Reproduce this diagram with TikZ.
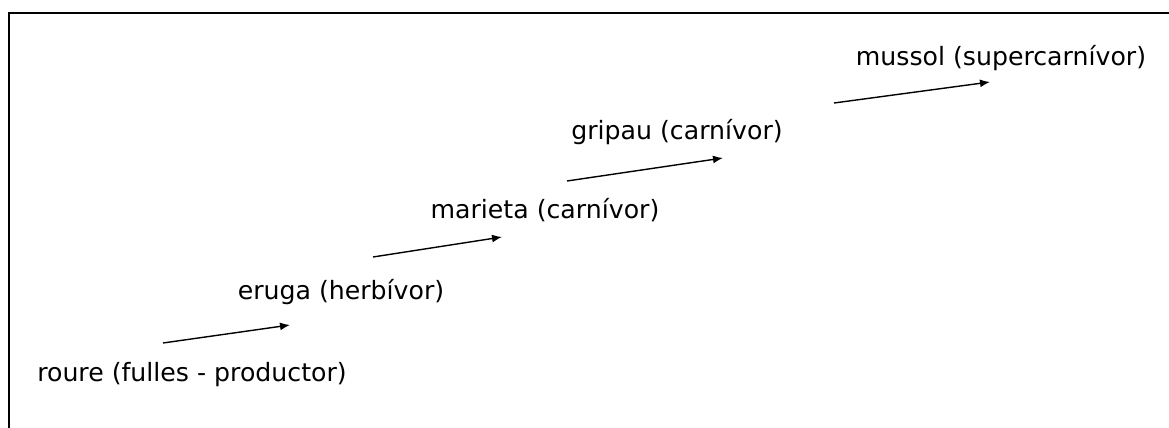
\documentclass[tikz,border=0pt]{standalone}
\usepackage{fontspec}
\setmainfont{DejaVu Sans}
\usetikzlibrary{arrows.meta}
\begin{document}
\begin{tikzpicture}[x=0.5pt,y=-0.5pt,
  lbl/.style={inner sep=0pt,font=\fontsize{12.6pt}{15pt}\selectfont},
  conn/.style={line width=0.7pt,-{Latex[length=5pt,width=4pt]}},
  frame/.style={line width=0.8pt}]
\useasboundingbox (0,0) rectangle (1169,428);
\draw[frame] (9,428) -- (9,13) -- (1169,13);
\node[lbl] (roure) at (192,375) {roure (fulles - productor)};
\node[lbl] (eruga) at (341,292) {eruga (herbívor)};
\node[lbl] (marieta) at (545,210) {marieta (carnívor)};
\node[lbl] (gripau) at (677,132) {gripau (carnívor)};
\node[lbl] (mussol) at (1001,58) {mussol (supercarnívor)};
\coordinate (a1) at (163,343); \coordinate (b1) at (290,325);
\coordinate (a2) at (373,257); \coordinate (b2) at (502,237);
\coordinate (a3) at (567,181); \coordinate (b3) at (723,158);
\coordinate (a4) at (834,103); \coordinate (b4) at (990,82);
\draw[conn] (a1) -- (b1);
\draw[conn] (a2) -- (b2);
\draw[conn] (a3) -- (b3);
\draw[conn] (a4) -- (b4);
\end{tikzpicture}
\end{document}
